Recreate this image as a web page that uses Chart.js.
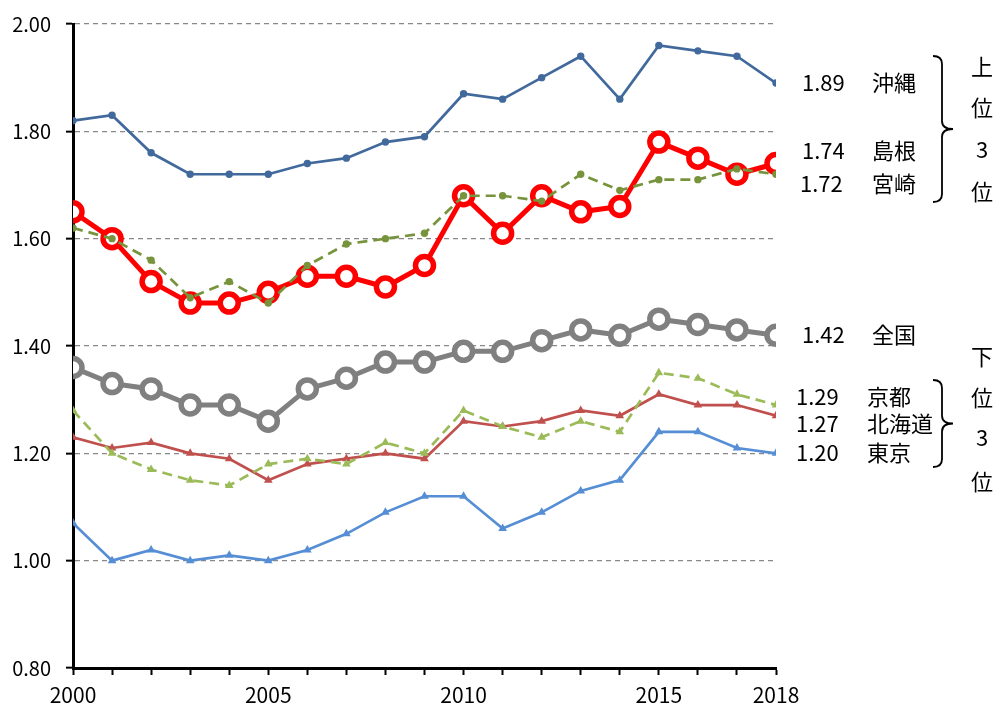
<!DOCTYPE html>
<html lang="ja">
<head>
    <meta charset="UTF-8">
    <title>合計特殊出生率の推移</title>
    <script src="https://cdn.jsdelivr.net/npm/chart.js"></script>
    <style>
        body { margin: 0; background: #fff; }
        #wrap { width: 1001px; height: 707px; position: relative; }
    </style>
</head>
<body>
    <div id="wrap"><canvas id="tfr-chart"></canvas></div>

    <script>
        // 2000 - 2018
        const years = [2000, 2001, 2002, 2003, 2004, 2005, 2006, 2007, 2008, 2009,
                       2010, 2011, 2012, 2013, 2014, 2015, 2016, 2017, 2018];
        const labeledYears = [2000, 2005, 2010, 2015, 2018];
        const yTicks = [0.8, 1.0, 1.2, 1.4, 1.6, 1.8, 2.0];

        const okinawa  = [1.82, 1.83, 1.76, 1.72, 1.72, 1.72, 1.74, 1.75, 1.78, 1.79, 1.87, 1.86, 1.90, 1.94, 1.86, 1.96, 1.95, 1.94, 1.89];
        const shimane  = [1.65, 1.60, 1.52, 1.48, 1.48, 1.50, 1.53, 1.53, 1.51, 1.55, 1.68, 1.61, 1.68, 1.65, 1.66, 1.78, 1.75, 1.72, 1.74];
        const miyazaki = [1.62, 1.60, 1.56, 1.49, 1.52, 1.48, 1.55, 1.59, 1.60, 1.61, 1.68, 1.68, 1.67, 1.72, 1.69, 1.71, 1.71, 1.73, 1.72];
        const national = [1.36, 1.33, 1.32, 1.29, 1.29, 1.26, 1.32, 1.34, 1.37, 1.37, 1.39, 1.39, 1.41, 1.43, 1.42, 1.45, 1.44, 1.43, 1.42];
        const kyoto    = [1.28, 1.20, 1.17, 1.15, 1.14, 1.18, 1.19, 1.18, 1.22, 1.20, 1.28, 1.25, 1.23, 1.26, 1.24, 1.35, 1.34, 1.31, 1.29];
        const hokkaido = [1.23, 1.21, 1.22, 1.20, 1.19, 1.15, 1.18, 1.19, 1.20, 1.19, 1.26, 1.25, 1.26, 1.28, 1.27, 1.31, 1.29, 1.29, 1.27];
        const tokyo    = [1.07, 1.00, 1.02, 1.00, 1.01, 1.00, 1.02, 1.05, 1.09, 1.12, 1.12, 1.06, 1.09, 1.13, 1.15, 1.24, 1.24, 1.21, 1.20];

        const FONT = '"Noto Sans CJK JP", "Noto Sans", sans-serif';

        function pts(arr) {
            return arr.map((v, i) => ({ x: years[i], y: v }));
        }

        // labels on the right side
        const sideLabels = [
            { value: '1.89', name: '沖縄', y: 83, x: 802 },
            { value: '1.74', name: '島根', y: 151, x: 802 },
            { value: '1.72', name: '宮崎', y: 184, x: 800 },
            { value: '1.42', name: '全国', y: 335, x: 802 },
            { value: '1.29', name: '京都', y: 397, x: 796, nx: 867 },
            { value: '1.27', name: '北海道', y: 424, x: 796, nx: 867 },
            { value: '1.20', name: '東京', y: 453, x: 796, nx: 867 }
        ];

        function drawBrace(ctx, x, top, bottom) {
            const mid = (top + bottom) / 2;
            const w = 9, tip = 11, r = 8;
            ctx.beginPath();
            ctx.moveTo(x - w, top);
            ctx.quadraticCurveTo(x, top, x, top + r);
            ctx.lineTo(x, mid - r);
            ctx.quadraticCurveTo(x, mid, x + tip, mid);
            ctx.quadraticCurveTo(x, mid, x, mid + r);
            ctx.lineTo(x, bottom - r);
            ctx.quadraticCurveTo(x, bottom, x - w, bottom);
            ctx.stroke();
        }

        const annotations = {
            id: 'annotations',
            afterDraw(chart) {
                const ctx = chart.ctx;
                ctx.save();
                ctx.fillStyle = '#000';
                ctx.textBaseline = 'middle';
                ctx.font = '22px ' + FONT;
                sideLabels.forEach(l => {
                    ctx.textAlign = 'left';
                    ctx.fillText(l.value, l.x, l.y);
                    ctx.fillText(l.name, l.nx || 872, l.y);
                });
                ctx.textAlign = 'center';
                ['上', '位', '3', '位'].forEach((t, i) => ctx.fillText(t, 982, [67, 108, 150, 192][i]));
                ['下', '位', '3', '位'].forEach((t, i) => ctx.fillText(t, 982, [357, 398, 438, 482][i]));
                ctx.strokeStyle = '#000';
                ctx.lineWidth = 1.8;
                drawBrace(ctx, 942, 56, 202);
                drawBrace(ctx, 942, 380, 467);
                ctx.restore();
            }
        };

        const ctx = document.getElementById('tfr-chart').getContext('2d');
        new Chart(ctx, {
            type: 'line',
            data: {
                datasets: [
                    {
                        label: '沖縄', data: pts(okinawa),
                        borderColor: '#41699c', backgroundColor: '#41699c', borderWidth: 2.7,
                        pointRadius: 3.7, pointBorderWidth: 0
                    },
                    {
                        label: '宮崎', data: pts(miyazaki),
                        borderColor: '#77933c', backgroundColor: '#77933c', borderWidth: 2.7,
                        borderDash: [10, 6], pointRadius: 3.7, pointBorderWidth: 0
                    },
                    {
                        label: '島根', data: pts(shimane),
                        borderColor: '#ff0000', backgroundColor: '#ffffff', borderWidth: 5,
                        pointRadius: 9, pointBorderWidth: 5.5, pointBackgroundColor: '#ffffff'
                    },
                    {
                        label: '全国', data: pts(national),
                        borderColor: '#808080', backgroundColor: '#ffffff', borderWidth: 5,
                        pointRadius: 9, pointBorderWidth: 5.5, pointBackgroundColor: '#ffffff'
                    },
                    {
                        label: '京都', data: pts(kyoto),
                        borderColor: '#9bbb59', backgroundColor: '#9bbb59', borderWidth: 2.7,
                        borderDash: [10, 6], pointStyle: 'triangle', pointRadius: 5, pointBorderWidth: 0
                    },
                    {
                        label: '北海道', data: pts(hokkaido),
                        borderColor: '#c0504d', backgroundColor: '#c0504d', borderWidth: 2.7,
                        pointStyle: 'triangle', pointRadius: 5, pointBorderWidth: 0
                    },
                    {
                        label: '東京', data: pts(tokyo),
                        borderColor: '#558ed5', backgroundColor: '#558ed5', borderWidth: 2.7,
                        pointStyle: 'triangle', pointRadius: 5, pointBorderWidth: 0
                    }
                ]
            },
            options: {
                responsive: true,
                maintainAspectRatio: false,
                animation: false,
                layout: { padding: { top: 24, right: 225, bottom: 0, left: 0 } },
                plugins: {
                    legend: { display: false },
                    tooltip: { enabled: false }
                },
                scales: {
                    x: {
                        type: 'linear',
                        min: 2000,
                        max: 2018,
                        afterBuildTicks: axis => { axis.ticks = years.map(v => ({ value: v })); },
                        afterFit: axis => { axis.height = 39; },
                        ticks: {
                            autoSkip: false,
                            maxRotation: 0,
                            color: '#000',
                            padding: 10,
                            font: { family: FONT, size: 21, lineHeight: 1 },
                            callback: v => labeledYears.includes(v) ? String(v) : ''
                        },
                        grid: {
                            drawOnChartArea: false,
                            drawTicks: true,
                            tickLength: 7,
                            tickColor: '#000',
                            tickWidth: 2
                        },
                        border: { display: true, color: '#000', width: 3 }
                    },
                    y: {
                        min: 0.8,
                        max: 2.0,
                        afterBuildTicks: axis => { axis.ticks = yTicks.map(v => ({ value: v })); },
                        afterFit: axis => { axis.width = 73; },
                        ticks: {
                            color: '#000',
                            padding: 15,
                            font: { family: FONT, size: 20, lineHeight: 0.6 },
                            callback: v => v.toFixed(2)
                        },
                        grid: {
                            color: '#888888',
                            lineWidth: 1.3,
                            drawTicks: true,
                            tickLength: 7,
                            tickColor: '#000',
                            tickWidth: 2,
                            tickBorderDash: []
                        },
                        border: { display: true, color: '#000', width: 3, dash: [5, 4] }
                    }
                }
            },
            plugins: [annotations]
        });
    </script>
</body>
</html>
